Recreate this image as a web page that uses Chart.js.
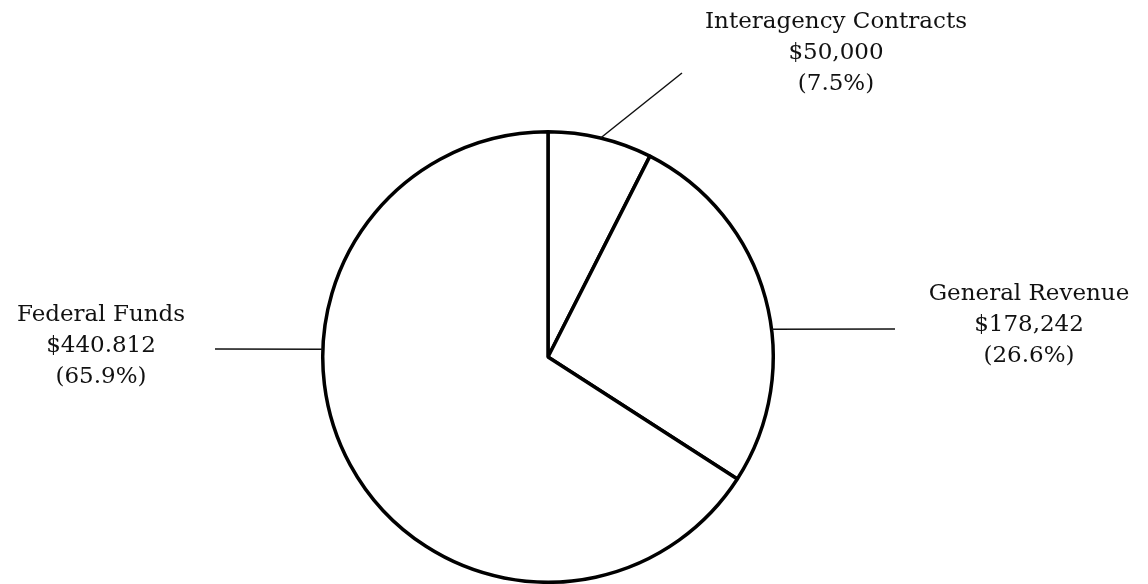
<!DOCTYPE html>
<html lang="en">
<head>
    <meta charset="UTF-8">
    <title>Funding Sources</title>
    <style>
        html, body { margin: 0; padding: 0; background: #fff; }
        .chart-box { width: 1148px; height: 584px; }
    </style>
</head>
<body>
    <div class="chart-box">
        <canvas id="myChart" width="1148" height="584"></canvas>
    </div>

    <script src="https://cdn.jsdelivr.net/npm/chart.js"></script>
    <script>
        // Data
        const categories = ['Interagency Contracts', 'General Revenue', 'Federal Funds'];
        const amounts = [50000, 178242, 440812];
        const amountLabels = ['$50,000', '$178,242', '$440.812'];
        const percentLabels = ['(7.5%)', '(26.6%)', '(65.9%)'];

        // label placement: rim angle (deg from top), leader end and text centre, both relative to pie centre
        const callouts = [
            { angle: 13.5, lineEnd: [134, -284], text: [288, -335] },
            { angle: 82.9, lineEnd: [347, -28], text: [481, -63] },
            { angle: 272, lineEnd: [-333, -8], text: [-447, -42] }
        ];
        const lineGap = 31;

        const calloutPlugin = {
            id: 'callouts',
            afterDraw(chart) {
                const ctx = chart.ctx;
                const arc = chart.getDatasetMeta(0).data[0];
                const cx = arc.x, cy = arc.y, r = arc.outerRadius;
                ctx.save();
                ctx.strokeStyle = '#111';
                ctx.lineWidth = 1.5;
                ctx.fillStyle = '#111';
                ctx.font = '23px "DejaVu Serif", serif';
                ctx.textAlign = 'center';
                ctx.textBaseline = 'middle';
                callouts.forEach((c, i) => {
                    const a = c.angle * Math.PI / 180;
                    ctx.beginPath();
                    ctx.moveTo(cx + r * Math.sin(a), cy - r * Math.cos(a));
                    ctx.lineTo(cx + c.lineEnd[0], cy + c.lineEnd[1]);
                    ctx.stroke();
                    const tx = cx + c.text[0], ty = cy + c.text[1];
                    ctx.fillText(categories[i], tx, ty);
                    ctx.fillText(amountLabels[i], tx, ty + lineGap);
                    ctx.fillText(percentLabels[i], tx, ty + lineGap * 2);
                });
                ctx.restore();
            }
        };

        const ctx = document.getElementById('myChart').getContext('2d');
        new Chart(ctx, {
            type: 'pie',
            data: {
                labels: categories,
                datasets: [{
                    data: amounts,
                    backgroundColor: '#ffffff',
                    borderColor: '#000000',
                    borderWidth: 3.5
                }]
            },
            options: {
                responsive: false,
                animation: false,
                layout: { padding: { top: 130, bottom: 0, left: 0, right: 52 } },
                plugins: {
                    legend: { display: false },
                    tooltip: { enabled: false }
                }
            },
            plugins: [calloutPlugin]
        });
    </script>
</body>
</html>
